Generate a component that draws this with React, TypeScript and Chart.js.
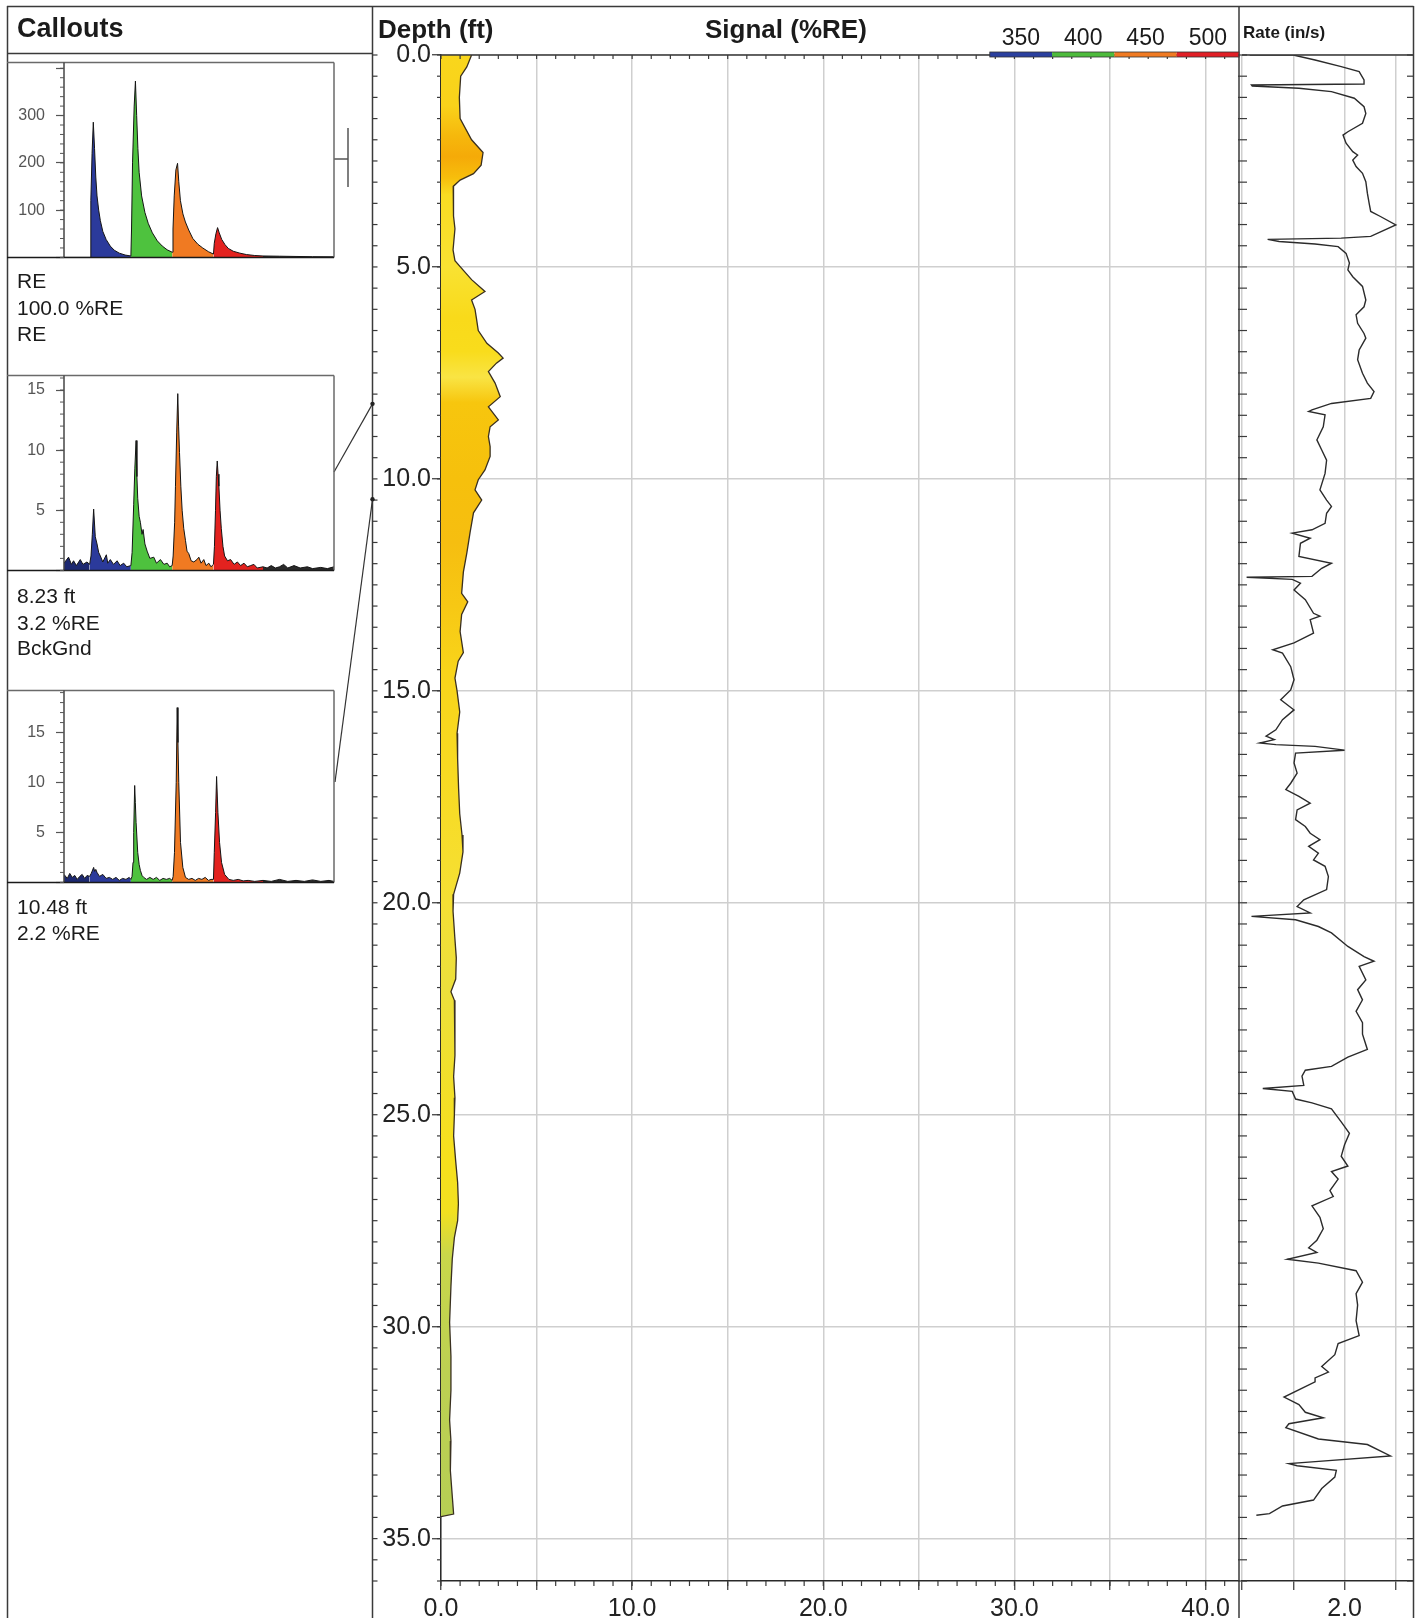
import React, { useEffect, useRef } from 'react';
import { Chart, registerables } from 'chart.js';

Chart.register(...registerables);

const FONT = '"Liberation Sans", Arial, Helvetica, sans-serif';

// ---------------- DATA ----------------
// Signal (%RE) versus depth (ft): [depth, signal]
const signalProfile: [number, number][] = [
  [0, 1.6], [0.28, 1.35], [0.5, 1.03], [1.0, 0.96], [1.5, 1.0], [2.0, 1.6], [2.3, 2.2], [2.6, 2.1],
  [2.8, 1.7], [2.95, 1.0], [3.1, 0.64], [3.4, 0.63], [3.8, 0.68], [4.1, 0.73], [4.6, 0.63], [4.85, 0.73],
  [5.07, 1.15], [5.3, 1.6], [5.58, 2.3], [5.78, 1.6], [6.0, 1.78], [6.2, 1.85], [6.5, 1.95], [6.8, 2.4],
  [7.03, 3.0], [7.15, 3.25], [7.27, 2.9], [7.47, 2.48], [7.74, 2.83], [8.06, 3.1], [8.3, 2.48], [8.45, 2.73],
  [8.61, 3.0], [8.77, 2.57], [9.0, 2.48], [9.24, 2.57], [9.47, 2.57], [9.79, 2.3], [10.02, 1.95], [10.26, 1.78],
  [10.5, 2.13], [10.8, 1.7], [11.27, 1.52], [11.75, 1.35], [12.2, 1.17], [12.7, 1.08], [12.9, 1.4], [13.2, 1.08],
  [13.6, 1.0], [14.1, 1.17], [14.3, 0.9], [14.7, 0.73], [15.0, 0.84], [15.5, 0.98], [16.0, 0.84], [16.6, 0.87],
  [17.3, 0.92], [17.9, 0.98], [18.4, 1.1], [18.8, 1.15], [19.3, 0.98], [19.8, 0.66], [20.2, 0.63], [20.8, 0.72],
  [21.3, 0.8], [21.8, 0.77], [22.1, 0.52], [22.3, 0.7], [23.0, 0.73], [23.6, 0.73], [24.1, 0.66], [24.6, 0.73],
  [25.0, 0.7], [25.5, 0.66], [26.1, 0.77], [26.6, 0.87], [27.1, 0.91], [27.5, 0.87], [27.9, 0.7], [28.4, 0.59],
  [29.05, 0.52], [29.9, 0.45], [30.7, 0.52], [31.5, 0.52], [32.2, 0.45], [32.7, 0.52], [33.4, 0.49], [34.0, 0.59],
  [34.42, 0.66], [34.48, 0],
];

// Rate (in/s) versus depth (ft): [depth, rate]
const rateProfile: [number, number][] = [
  [0, 1.63], [0, 1.8], [0.118, 1.885], [0.275, 1.987], [0.393, 2.057], [0.59, 2.076], [0.684, 2.076],
  [0.708, 1.637], [0.731, 1.64], [0.786, 1.822], [0.865, 1.949], [1.02, 2.038], [1.22, 2.076], [1.38, 2.083],
  [1.61, 2.07], [1.81, 2.013], [1.89, 1.994], [2.08, 2.006], [2.28, 2.032], [2.36, 2.051], [2.48, 2.032],
  [2.63, 2.045], [2.79, 2.07], [2.99, 2.083], [3.26, 2.089], [3.5, 2.096], [3.69, 2.102], [3.81, 2.14],
  [4.01, 2.2], [4.28, 2.102], [4.32, 1.987], [4.35, 1.7], [4.4, 1.745], [4.46, 1.885], [4.52, 1.975],
  [4.68, 2.006], [4.91, 2.019], [5.07, 2.013], [5.23, 2.032], [5.46, 2.07], [5.78, 2.083], [5.94, 2.076],
  [6.13, 2.045], [6.33, 2.051], [6.57, 2.076], [6.68, 2.083], [6.96, 2.057], [7.19, 2.051], [7.51, 2.07],
  [7.74, 2.089], [7.94, 2.115], [8.1, 2.102], [8.22, 1.949], [8.37, 1.873], [8.41, 1.86], [8.49, 1.924],
  [8.77, 1.917], [9.08, 1.892], [9.32, 1.911], [9.56, 1.93], [9.87, 1.924], [10.26, 1.904], [10.5, 1.93],
  [10.65, 1.949], [10.81, 1.93], [11.05, 1.924], [11.2, 1.873], [11.28, 1.796], [11.4, 1.866], [11.52, 1.828],
  [11.83, 1.822], [11.99, 1.949], [12.11, 1.911], [12.3, 1.873], [12.32, 1.618], [12.37, 1.796], [12.46, 1.828],
  [12.62, 1.803], [12.85, 1.847], [13.17, 1.879], [13.24, 1.904], [13.32, 1.866], [13.64, 1.879], [13.87, 1.803],
  [14.03, 1.72], [14.11, 1.758], [14.43, 1.79], [14.74, 1.803], [14.98, 1.79], [15.21, 1.751], [15.45, 1.803],
  [15.68, 1.758], [15.92, 1.732], [16.07, 1.694], [16.15, 1.726], [16.23, 1.669], [16.27, 1.732], [16.31, 1.885],
  [16.4, 2.0], [16.47, 1.809], [16.7, 1.803], [16.94, 1.815], [17.18, 1.79], [17.33, 1.771], [17.49, 1.822],
  [17.65, 1.866], [17.81, 1.815], [18.04, 1.809], [18.2, 1.847], [18.36, 1.866], [18.51, 1.904], [18.67, 1.86],
  [18.83, 1.898], [18.99, 1.879], [19.14, 1.924], [19.38, 1.937], [19.69, 1.93], [19.93, 1.841], [20.09, 1.815],
  [20.24, 1.866], [20.32, 1.637], [20.4, 1.809], [20.56, 1.898], [20.71, 1.949], [21.03, 2.013], [21.27, 2.076],
  [21.38, 2.115], [21.5, 2.057], [21.82, 2.083], [22.05, 2.051], [22.29, 2.07], [22.56, 2.045], [22.83, 2.07],
  [23.1, 2.07], [23.46, 2.089], [23.64, 2.013], [23.86, 1.949], [23.95, 1.847], [24.09, 1.834], [24.31, 1.841],
  [24.38, 1.681], [24.45, 1.796], [24.63, 1.809], [24.72, 1.873], [24.86, 1.949], [25.17, 1.987], [25.44, 2.019],
  [25.71, 2.0], [25.98, 1.987], [26.21, 2.013], [26.34, 1.949], [26.52, 1.975], [26.79, 1.943], [26.93, 1.956],
  [27.15, 1.873], [27.42, 1.904], [27.69, 1.917], [27.96, 1.892], [28.14, 1.86], [28.25, 1.892], [28.41, 1.777],
  [28.5, 1.898], [28.68, 2.045], [28.95, 2.07], [29.22, 2.045], [29.49, 2.051], [29.86, 2.045], [30.21, 2.057],
  [30.4, 1.975], [30.66, 1.962], [30.94, 1.911], [31.07, 1.937], [31.21, 1.885], [31.3, 1.885], [31.66, 1.764],
  [31.84, 1.822], [32.02, 1.847], [32.15, 1.917], [32.29, 1.783], [32.38, 1.771], [32.65, 1.898], [32.78, 2.089],
  [33.05, 2.179], [33.19, 1.873], [33.23, 1.783], [33.28, 1.815], [33.39, 1.968], [33.55, 1.962], [33.82, 1.911],
  [34.09, 1.879], [34.23, 1.758], [34.41, 1.707], [34.45, 1.656],
];

// Callout spectra: [wavelength, counts]
const spectrumRE: [number, number][] = [
  [319, 0], [350, 0], [350.5, 0], [351.5, 120], [353, 220], [354.5, 286], [356, 230], [357.5, 170], [359, 130],
  [361, 100], [363, 78], [366, 55], [370, 38], [375, 24], [380, 15], [386, 9], [393, 5], [400, 3],
  [400.8, 60], [402, 200], [404, 320], [405.5, 373], [407, 300], [408.5, 230], [410, 180], [413, 130],
  [417, 95], [421, 72], [426, 52], [432, 35], [438, 24], [444, 16], [450, 11],
  [451, 60], [452.5, 130], [454.5, 185], [456.5, 199], [458, 160], [460, 120], [463, 92], [466, 75],
  [470, 58], [475, 40], [481, 28], [487, 20], [494, 12], [500, 7],
  [501, 30], [503, 50], [505, 63], [507, 52], [510, 38], [514, 27], [518, 19], [524, 13], [532, 9],
  [540, 6], [550, 4], [560, 3], [580, 2.5], [600, 2], [620, 1.5], [646, 1.2],
];
const spectrumBg823: [number, number][] = [
  [319, 0.6], [324.5, 1.1], [328, 0.5], [330.6, 0.8], [334, 0.4], [338.7, 0.9], [342, 0.5], [346.8, 0.7],
  [350, 0.5], [351.7, 1.2], [353.3, 3.0], [354.9, 5.1], [356.9, 2.8], [359, 2.2], [361, 1.5], [363, 1.2],
  [366, 0.7], [370.3, 1.3], [372, 0.6], [375.1, 0.9], [379, 0.5], [383.3, 0.8], [387, 0.4], [391.3, 0.6],
  [395, 0.3], [400, 0.4], [401.5, 1.5], [403.4, 5.5], [404.8, 8.5], [406.3, 10.8], [407.3, 7.8], [408.3, 6.0],
  [410, 4.5], [411.5, 4.0], [413.5, 3.0], [414.8, 3.4], [417, 2.2], [419.7, 1.6], [423, 1.0], [427.7, 1.1],
  [431, 0.6], [435.8, 0.9], [440, 0.5], [443.9, 0.6], [447, 0.3], [450, 0.4], [451.2, 1.2], [453, 4.0],
  [454, 7.0], [455.5, 11.5], [456.8, 14.7], [457.8, 12.0], [458.9, 9.8], [460.5, 7.0], [462.1, 5.0], [464, 3.5],
  [466.1, 2.5], [468, 1.6], [470.1, 1.4], [473, 0.8], [476.2, 0.7], [480, 0.9], [482.3, 1.1], [485, 0.6],
  [488.3, 0.9], [491, 0.4], [494.4, 0.6], [497, 0.3], [500, 0.5], [501.2, 2.0], [502.5, 5.0], [503.5, 7.8],
  [504.6, 9.1], [505.6, 8.0], [506.6, 7.0], [508, 5.0], [509.5, 3.5], [511.5, 2.0], [513.5, 1.2], [517, 0.8],
  [520.8, 0.9], [525, 0.5], [529, 0.7], [532.9, 0.4], [537, 0.6], [541, 0.3], [545, 0.4], [549, 0.5],
  [553, 0.2], [560, 0.3], [565, 0.2], [570, 0.4], [575, 0.2], [580, 0.3], [585, 0.5], [590, 0.2],
  [597.6, 0.4], [605, 0.2], [613.8, 0.3], [620, 0.15], [630, 0.25], [638, 0.15], [646, 0.3],
];
const spectrumBg1048: [number, number][] = [
  [319, 0.8], [323, 0.4], [326, 0.9], [329, 0.5], [332, 0.7], [335, 0.3], [338, 0.6], [341, 0.8], [344, 0.4],
  [347, 0.7], [350, 0.6], [352, 0.9], [354.9, 1.5], [356.1, 1.1], [357.5, 1.3], [359, 1.0], [362, 0.6],
  [366, 0.8], [370, 0.4], [374, 0.5], [378, 0.3], [382, 0.5], [386, 0.2], [390, 0.4], [394, 0.3], [398, 0.5],
  [400, 0.3], [401.4, 0.6], [402.6, 2.0], [403.4, 5.0], [404.6, 9.7], [405.4, 8.0], [406.3, 6.0], [408.3, 3.0],
  [410, 1.8], [411.5, 1.2], [413.5, 0.7], [415.5, 0.5], [419, 0.3], [423, 0.5], [427, 0.3], [431, 0.5],
  [435, 0.2], [439, 0.4], [443, 0.3], [447, 0.4], [450, 0.2], [451.2, 0.6], [452.8, 3.0], [454.9, 10.0],
  [456.1, 17.5], [457, 14.0], [458, 10.0], [460.1, 4.0], [462.9, 1.5], [466.1, 0.5], [470, 0.3], [474, 0.4],
  [478, 0.2], [482, 0.4], [486, 0.3], [490, 0.5], [494, 0.2], [497, 0.3], [500, 0.3], [501, 3.0], [502.6, 7.0],
  [503.8, 10.6], [505.4, 7.0], [507.4, 4.0], [509.8, 2.0], [513.5, 0.8], [518.7, 0.3], [524, 0.2], [530, 0.3],
  [536, 0.15], [542, 0.2], [550, 0.1], [560, 0.2], [570, 0.1], [580, 0.3], [590, 0.1], [600, 0.2], [610, 0.1],
  [620, 0.25], [630, 0.1], [640, 0.2], [646, 0.1],
];

// spectral band edges (nm) and legend
const bandEdges = [319, 350, 400, 450, 500, 560, 646];
const legendLabels = ['350', '400', '450', '500'];
const calloutDepths = [8.23, 10.48];

// ---------------- STYLE / LAYOUT ----------------
const bandColors = ['#1c2870', '#2b3a9b', '#4ec23e', '#f07a22', '#e3221f', '#2a2a2a'];
const legendColors = ['#2a3f9e', '#4dbb3c', '#f07a22', '#e11f26'];
const GRID = '#cfcfcf';
const FRAME = '#3a3a3a';
const fillStops: [number, string][] = [
  [0, '#f9d61c'], [1.2, '#f9d21a'], [1.9, '#f6b80c'], [2.4, '#f5aa08'], [2.9, '#f7be0c'], [3.3, '#f9dc22'],
  [5.0, '#f9e232'], [6.2, '#f9da1a'], [7.0, '#f9dc1c'], [7.6, '#f9e444'], [8.2, '#f7c60e'], [10.0, '#f6c00c'],
  [11.5, '#f6be10'], [13.0, '#f7c814'], [14.5, '#f8d41a'], [17, '#f8da22'], [20, '#f5e034'], [22, '#ecdf3c'],
  [26, '#f7e01c'], [27.3, '#f2e020'], [28.3, '#c9d74a'], [31, '#bdd052'], [34.5, '#b7cf54'], [36, '#b7cf54'],
];
const LEGEND_SEG = 62.3;

const CALLOUTS = [
  { spectrum: spectrumRE, yMax: 412, step: 100, minor: 20, top: 54, bottom: 266 },
  { spectrum: spectrumBg823, yMax: 16.2, step: 5, minor: 1, top: 367, bottom: 579 },
  { spectrum: spectrumBg1048, yMax: 19.2, step: 5, minor: 1, top: 682, bottom: 891 },
];
const leaderStarts = [{ x: 334, y: 472 }, { x: 335, y: 782 }];

function seg(ctx: CanvasRenderingContext2D, x1: number, y1: number, x2: number, y2: number) {
  ctx.beginPath();
  ctx.moveTo(x1, y1);
  ctx.lineTo(x2, y2);
  ctx.stroke();
}

const tickFont = { family: FONT, size: 25 };

function SignalTrack() {
  const ref = useRef<HTMLCanvasElement>(null);
  useEffect(() => {
    const framePlugin = {
      id: 'mainFrame',
      afterDraw(chart: any) {
        const { ctx, chartArea: a, scales } = chart;
        const xs = scales.x;
        const ys = scales.y;
        ctx.save();
        ctx.strokeStyle = FRAME;
        ctx.lineWidth = 1.5;
        seg(ctx, 7, 6.5, 1413.5, 6.5);
        seg(ctx, 7.5, 6, 7.5, 1618);
        seg(ctx, 372.5, 6, 372.5, 1618);
        seg(ctx, a.right, 6, a.right, 1618);
        seg(ctx, 1413.5, 6, 1413.5, 1618);
        seg(ctx, 7, 53.5, 372.5, 53.5);
        seg(ctx, a.left, a.top, a.right, a.top);
        ctx.lineWidth = 1.2;
        for (let k = 0; k <= 72; k++) {
          const py = ys.getPixelForValue(k / 2);
          seg(ctx, 372.5, py, 377.5, py);
          seg(ctx, a.left - 4, py, a.left, py);
        }
        for (let v = 0; v <= 41; v++) {
          const px = xs.getPixelForValue(v);
          seg(ctx, px, a.bottom, px, a.bottom + 5);
          seg(ctx, px, a.top, px, a.top + 4);
        }
        // wavelength legend bar
        for (let i = 0; i < legendColors.length; i++) {
          const x0 = a.right - (legendColors.length - i) * LEGEND_SEG;
          ctx.fillStyle = legendColors[i];
          ctx.fillRect(x0, a.top - 3, LEGEND_SEG, 5);
        }
        ctx.strokeStyle = '#333';
        ctx.lineWidth = 0.8;
        ctx.strokeRect(a.right - legendColors.length * LEGEND_SEG, a.top - 3, legendColors.length * LEGEND_SEG, 5);
        // callout bracket for reference spectrum
        ctx.strokeStyle = '#555';
        ctx.lineWidth = 1.5;
        seg(ctx, 334, 159, 348, 159);
        seg(ctx, 348, 128, 348, 187);
        // leader lines
        ctx.strokeStyle = '#333';
        ctx.lineWidth = 1.2;
        ctx.fillStyle = '#222';
        calloutDepths.forEach((d, i) => {
          const py = ys.getPixelForValue(d);
          seg(ctx, leaderStarts[i].x, leaderStarts[i].y, 372.5, py);
          ctx.beginPath();
          ctx.arc(372.5, py, 2.2, 0, Math.PI * 2);
          ctx.fill();
        });
        ctx.restore();
      },
    };
    const chart = new Chart(ref.current as HTMLCanvasElement, {
      type: 'line',
      data: {
        datasets: [
          {
            data: signalProfile.map(([d, v]) => ({ x: v, y: d })),
            borderColor: '#3a3020',
            borderWidth: 1.3,
            pointRadius: 0,
            tension: 0,
            fill: 'origin',
            backgroundColor: (c: any) => {
              const ch = c.chart;
              if (!ch.chartArea || !ch.scales.y) return '#f8d820';
              const ys = ch.scales.y;
              const g = ch.ctx.createLinearGradient(0, ys.getPixelForValue(0), 0, ys.getPixelForValue(36));
              fillStops.forEach(([d, col]) => g.addColorStop(d / 36, col));
              return g;
            },
          },
        ],
      },
      options: {
        indexAxis: 'y',
        animation: false,
        responsive: false,
        layout: { padding: { left: 372, top: 55, right: 183, bottom: 0 } },
        plugins: { legend: { display: false }, tooltip: { enabled: false } },
        scales: {
          x: {
            type: 'linear',
            position: 'bottom',
            min: 0,
            max: 41.75,
            ticks: {
              stepSize: 5,
              includeBounds: false,
              autoSkip: false,
              maxRotation: 0,
              padding: 4,
              color: '#222',
              font: tickFont,
              callback: (v: any) => (Math.round(Number(v)) % 10 === 0 ? Number(v).toFixed(1) : ''),
            },
            grid: { color: GRID, lineWidth: 1.5, tickLength: 9, tickColor: '#333', tickWidth: 1.2 },
            border: { color: '#2a2a2a', width: 1.5 },
            afterFit: (s: any) => {
              s.height = 37;
            },
          },
          y: {
            type: 'linear',
            position: 'left',
            min: 0,
            max: 36,
            reverse: true,
            ticks: {
              stepSize: 5,
              includeBounds: false,
              autoSkip: false,
              padding: 1,
              color: '#222',
              font: tickFont,
              callback: (v: any) => Number(v).toFixed(1),
            },
            grid: { color: GRID, lineWidth: 1.5, tickLength: 9, tickColor: '#333', tickWidth: 1.2 },
            border: { color: '#2a2a2a', width: 1.5 },
            afterFit: (s: any) => {
              s.width = 69;
            },
          },
        },
      } as any,
      plugins: [framePlugin],
    });
    return () => chart.destroy();
  }, []);
  return (
    <canvas
      ref={ref}
      width={1422}
      height={1618}
      style={{ position: 'absolute', left: 0, top: 0, width: 1422, height: 1618 }}
    />
  );
}

function RateTrack() {
  const ref = useRef<HTMLCanvasElement>(null);
  useEffect(() => {
    const framePlugin = {
      id: 'rateFrame',
      afterDraw(chart: any) {
        const { ctx, chartArea: a, scales } = chart;
        const ys = scales.y;
        ctx.save();
        ctx.strokeStyle = FRAME;
        ctx.lineWidth = 1.5;
        seg(ctx, a.left, a.top, a.right, a.top);
        ctx.lineWidth = 1.2;
        for (let k = 0; k <= 72; k++) {
          const py = ys.getPixelForValue(k / 2);
          seg(ctx, a.left - 4, py, a.left + 5, py);
          seg(ctx, a.right - 6, py, a.right, py);
        }
        ctx.restore();
      },
    };
    const chart = new Chart(ref.current as HTMLCanvasElement, {
      type: 'line',
      data: {
        datasets: [
          {
            data: rateProfile.map(([d, v]) => ({ x: v, y: d })),
            borderColor: '#2b2b2b',
            borderWidth: 1.4,
            pointRadius: 0,
            tension: 0,
            fill: false,
          },
        ],
      },
      options: {
        indexAxis: 'y',
        animation: false,
        responsive: false,
        layout: { padding: { left: 1, top: 55, right: 9, bottom: 0 } },
        plugins: { legend: { display: false }, tooltip: { enabled: false } },
        scales: {
          x: {
            type: 'linear',
            position: 'bottom',
            min: 1.6,
            max: 2.267,
            ticks: {
              stepSize: 0.2,
              includeBounds: false,
              autoSkip: false,
              maxRotation: 0,
              padding: 4,
              color: '#222',
              font: tickFont,
              callback: (v: any) => (Math.abs(Number(v) - 2) < 1e-6 ? '2.0' : ''),
            },
            grid: { color: GRID, lineWidth: 1.5, tickLength: 9, tickColor: '#333', tickWidth: 1.2 },
            border: { color: '#2a2a2a', width: 1.5 },
            afterFit: (s: any) => {
              s.height = 37;
            },
          },
          y: {
            type: 'linear',
            position: 'left',
            min: 0,
            max: 36,
            reverse: true,
            ticks: { display: false, stepSize: 5, includeBounds: false },
            grid: { color: GRID, lineWidth: 1.5, drawTicks: false },
            border: { display: false },
            afterFit: (s: any) => {
              s.width = 0;
            },
          },
        },
      } as any,
      plugins: [framePlugin],
    });
    return () => chart.destroy();
  }, []);
  return (
    <canvas
      ref={ref}
      width={184}
      height={1618}
      style={{ position: 'absolute', left: 1238, top: 0, width: 184, height: 1618 }}
    />
  );
}

function MiniSpectrum(props: any) {
  const { spectrum, yMax, step, minor, top, bottom } = props;
  const ref = useRef<HTMLCanvasElement>(null);
  const h = bottom - top + 24;
  useEffect(() => {
    const pts = spectrum.map(([w, c]: [number, number]) => ({ x: w, y: c }));
    const datasets: any[] = [
      { data: pts, borderColor: '#151515', borderWidth: 1, pointRadius: 0, tension: 0, fill: false },
    ];
    for (let b = 0; b < bandColors.length; b++) {
      const lo = bandEdges[b];
      const hi = bandEdges[b + 1];
      datasets.push({
        data: pts.filter((p: any) => p.x >= lo && p.x <= hi),
        backgroundColor: bandColors[b],
        borderColor: 'rgba(0,0,0,0)',
        borderWidth: 0,
        pointRadius: 0,
        tension: 0,
        fill: 'origin',
      });
    }
    const framePlugin = {
      id: 'miniFrame',
      afterDraw(chart: any) {
        const { ctx, chartArea: a, scales } = chart;
        const ys = scales.y;
        ctx.save();
        ctx.strokeStyle = '#6a6a6a';
        ctx.lineWidth = 1.5;
        seg(ctx, 7, a.top, a.right, a.top);
        seg(ctx, a.right, a.top, a.right, a.bottom);
        ctx.strokeStyle = '#444';
        seg(ctx, a.left, a.top, a.left, a.bottom);
        ctx.strokeStyle = '#1a1a1a';
        seg(ctx, 7, a.bottom, a.right, a.bottom);
        ctx.strokeStyle = '#555';
        ctx.lineWidth = 1;
        for (let v = 0; v <= yMax; v += minor) {
          const py = ys.getPixelForValue(v);
          seg(ctx, a.left - 4, py, a.left, py);
        }
        ctx.restore();
      },
    };
    const chart = new Chart(ref.current as HTMLCanvasElement, {
      type: 'line',
      data: { datasets },
      options: {
        animation: false,
        responsive: false,
        layout: { padding: { left: 7, right: 12, top: 12, bottom: 12 } },
        plugins: { legend: { display: false }, tooltip: { enabled: false } },
        scales: {
          x: { type: 'linear', display: false, min: 319, max: 646 },
          y: {
            type: 'linear',
            min: 0,
            max: yMax,
            ticks: {
              stepSize: step,
              includeBounds: false,
              autoSkip: false,
              padding: 11,
              color: '#555',
              font: { family: FONT, size: 16 },
              callback: (v: any) => {
                const n = Number(v);
                return n === 0 || n > yMax - step * 0.2 ? '' : String(n);
              },
            },
            grid: { drawOnChartArea: false, drawTicks: true, tickLength: 8, tickColor: '#555', tickWidth: 1.2 },
            border: { display: false },
            afterFit: (s: any) => {
              s.width = 57;
            },
          },
        },
      } as any,
      plugins: [framePlugin],
    });
    return () => chart.destroy();
  }, []);
  return (
    <canvas
      ref={ref}
      width={346}
      height={h}
      style={{ position: 'absolute', left: 0, top: top - 12, width: 346, height: h }}
    />
  );
}

function Label(props: any) {
  const { x, y, size, bold, center, children } = props;
  return (
    <div
      style={{
        position: 'absolute',
        left: center ? x - 60 : x,
        top: y - 0.49 * size,
        width: center ? 120 : undefined,
        textAlign: center ? 'center' : 'left',
        fontSize: size,
        fontWeight: bold ? 700 : 400,
        lineHeight: `${size}px`,
        whiteSpace: 'nowrap',
        color: '#1b1b1b',
      }}
    >
      {children}
    </div>
  );
}

const captions = [
  { y: 280, text: 'RE' },
  { y: 307, text: '100.0 %RE' },
  { y: 333, text: 'RE' },
  { y: 595.5, text: '8.23 ft' },
  { y: 622, text: '3.2 %RE' },
  { y: 647, text: 'BckGnd' },
  { y: 906, text: '10.48 ft' },
  { y: 932, text: '2.2 %RE' },
];

export default function App() {
  const legendRight = 1239;
  return (
    <div
      style={{
        position: 'absolute',
        left: 0,
        top: 0,
        width: 1422,
        height: 1618,
        background: '#fff',
        overflow: 'hidden',
        fontFamily: FONT,
      }}
    >
      <SignalTrack />
      <RateTrack />
      {CALLOUTS.map((c, i) => (
        <MiniSpectrum key={i} {...c} />
      ))}
      <Label x={17} y={28} size={27} bold>
        Callouts
      </Label>
      <Label x={378} y={28.5} size={26} bold>
        Depth (ft)
      </Label>
      <Label x={705} y={28.5} size={26} bold>
        Signal (%RE)
      </Label>
      <Label x={1243} y={32} size={17} bold>
        Rate (in/s)
      </Label>
      {legendLabels.map((t, i) => (
        <Label
          key={t}
          x={legendRight - (legendLabels.length - i) * LEGEND_SEG + LEGEND_SEG / 2}
          y={37}
          size={23}
          center
        >
          {t}
        </Label>
      ))}
      {captions.map((c, i) => (
        <Label key={i} x={17} y={c.y} size={21}>
          {c.text}
        </Label>
      ))}
    </div>
  );
}
